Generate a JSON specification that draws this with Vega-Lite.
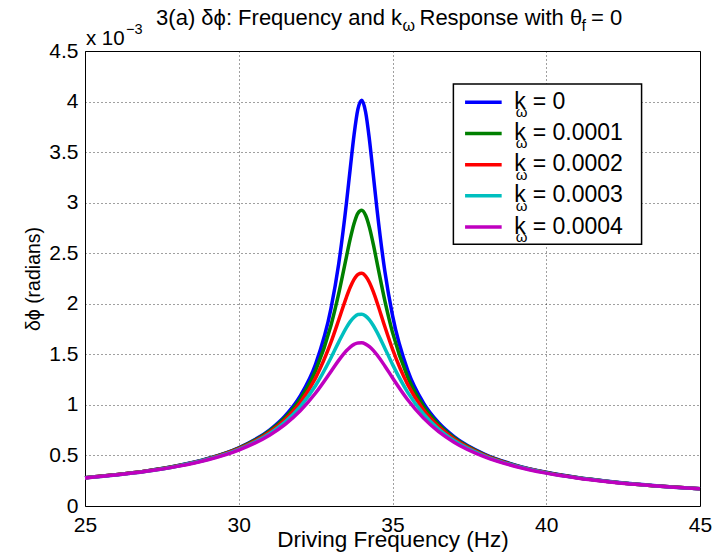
{
  "$schema": "https://vega.github.io/schema/vega-lite/v6.json",
  "width": 615,
  "height": 455,
  "autosize": {"type": "none"},
  "padding": {"left": 85, "top": 51, "right": 15, "bottom": 52},
  "background": "white",
  "config": {
    "view": {"stroke": "black", "strokeWidth": 1},
    "axis": {
      "labelFont": "Liberation Sans", "titleFont": "Liberation Sans",
      "labelColor": "black", "titleColor": "black", "titleFontWeight": "normal",
      "grid": true, "gridColor": "black", "gridDash": [1, 3], "gridOpacity": 0.75,
      "domain": false, "ticks": false, "tickSize": 0,
      "labelOverlap": false, "labelFlush": false
    },
    "text": {"font": "Liberation Sans", "color": "black"}
  },
  "datasets": {
    "curves": [
      {"f":25,"k":"0","v":0.0002797},{"f":26,"k":"0","v":0.0003093},{"f":27,"k":"0","v":0.0003474},{"f":28,"k":"0","v":0.0003984},{"f":29,"k":"0","v":0.0004697},{"f":30,"k":"0","v":0.0005762},{"f":31,"k":"0","v":0.0007514},{"f":31.5,"k":"0","v":0.0008888},{"f":32,"k":"0","v":0.0010891},{"f":32.5,"k":"0","v":0.0014048},{"f":33,"k":"0","v":0.0019553},{"f":33.25,"k":"0","v":0.0023942},{"f":33.5,"k":"0","v":0.0029907},{"f":33.625,"k":"0","v":0.003336},{"f":33.75,"k":"0","v":0.0036716},{"f":33.875,"k":"0","v":0.003925},{"f":34,"k":"0","v":0.0040124},{"f":34.125,"k":"0","v":0.003897},{"f":34.25,"k":"0","v":0.0036225},{"f":34.375,"k":"0","v":0.003275},{"f":34.5,"k":"0","v":0.0029237},{"f":34.75,"k":"0","v":0.0023242},{"f":35,"k":"0","v":0.0018861},{"f":35.5,"k":"0","v":0.0013372},{"f":36,"k":"0","v":0.0010227},{"f":36.5,"k":"0","v":0.000823},{"f":37,"k":"0","v":0.0006859},{"f":38,"k":"0","v":0.0005111},{"f":39,"k":"0","v":0.0004047},{"f":40,"k":"0","v":0.0003333},{"f":41,"k":"0","v":0.0002822},{"f":42,"k":"0","v":0.0002439},{"f":43,"k":"0","v":0.0002141},{"f":44,"k":"0","v":0.0001903},{"f":45,"k":"0","v":0.0001708},
      {"f":25,"k":"0.0001","v":0.0002794},{"f":26,"k":"0.0001","v":0.0003088},{"f":27,"k":"0.0001","v":0.0003467},{"f":28,"k":"0.0001","v":0.0003972},{"f":29,"k":"0.0001","v":0.0004677},{"f":30,"k":"0.0001","v":0.0005721},{"f":31,"k":"0.0001","v":0.0007419},{"f":31.5,"k":"0.0001","v":0.0008727},{"f":32,"k":"0.0001","v":0.0010591},{"f":32.5,"k":"0.0001","v":0.0013402},{"f":33,"k":"0.0001","v":0.0017873},{"f":33.25,"k":"0.0001","v":0.0020997},{"f":33.5,"k":"0.0001","v":0.0024623},{"f":33.625,"k":"0.0001","v":0.002641},{"f":33.75,"k":"0.0001","v":0.0027936},{"f":33.875,"k":"0.0001","v":0.002896},{"f":34,"k":"0.0001","v":0.0029254},{"f":34.125,"k":"0.0001","v":0.002875},{"f":34.25,"k":"0.0001","v":0.0027552},{"f":34.375,"k":"0.0001","v":0.002589},{"f":34.5,"k":"0.0001","v":0.0024019},{"f":34.75,"k":"0.0001","v":0.0020314},{"f":35,"k":"0.0001","v":0.0017171},{"f":35.5,"k":"0.0001","v":0.0012712},{"f":36,"k":"0.0001","v":0.0009914},{"f":36.5,"k":"0.0001","v":0.0008059},{"f":37,"k":"0.0001","v":0.0006757},{"f":38,"k":"0.0001","v":0.0005066},{"f":39,"k":"0.0001","v":0.0004023},{"f":40,"k":"0.0001","v":0.0003319},{"f":41,"k":"0.0001","v":0.0002813},{"f":42,"k":"0.0001","v":0.0002433},{"f":43,"k":"0.0001","v":0.0002137},{"f":44,"k":"0.0001","v":0.00019},{"f":45,"k":"0.0001","v":0.0001706},
      {"f":25,"k":"0.0002","v":0.0002789},{"f":26,"k":"0.0002","v":0.0003082},{"f":27,"k":"0.0002","v":0.0003458},{"f":28,"k":"0.0002","v":0.0003957},{"f":29,"k":"0.0002","v":0.000465},{"f":30,"k":"0.0002","v":0.000567},{"f":31,"k":"0.0002","v":0.00073},{"f":31.5,"k":"0.0002","v":0.0008529},{"f":32,"k":"0.0002","v":0.0010232},{"f":32.5,"k":"0.0002","v":0.0012675},{"f":33,"k":"0.0002","v":0.0016205},{"f":33.25,"k":"0.0002","v":0.0018394},{"f":33.5,"k":"0.0002","v":0.0020641},{"f":33.625,"k":"0.0002","v":0.002163},{"f":33.75,"k":"0.0002","v":0.0022418},{"f":33.875,"k":"0.0002","v":0.0022905},{"f":34,"k":"0.0002","v":0.0023019},{"f":34.125,"k":"0.0002","v":0.0022737},{"f":34.25,"k":"0.0002","v":0.0022102},{"f":34.375,"k":"0.0002","v":0.002119},{"f":34.5,"k":"0.0002","v":0.0020106},{"f":34.75,"k":"0.0002","v":0.0017751},{"f":35,"k":"0.0002","v":0.0015517},{"f":35.5,"k":"0.0002","v":0.0011976},{"f":36,"k":"0.0002","v":0.0009543},{"f":36.5,"k":"0.0002","v":0.0007851},{"f":37,"k":"0.0002","v":0.000663},{"f":38,"k":"0.0002","v":0.0005008},{"f":39,"k":"0.0002","v":0.0003992},{"f":40,"k":"0.0002","v":0.0003301},{"f":41,"k":"0.0002","v":0.0002802},{"f":42,"k":"0.0002","v":0.0002425},{"f":43,"k":"0.0002","v":0.0002131},{"f":44,"k":"0.0002","v":0.0001896},{"f":45,"k":"0.0002","v":0.0001703},
      {"f":25,"k":"0.0003","v":0.0002784},{"f":26,"k":"0.0003","v":0.0003074},{"f":27,"k":"0.0003","v":0.0003446},{"f":28,"k":"0.0003","v":0.0003938},{"f":29,"k":"0.0003","v":0.0004618},{"f":30,"k":"0.0003","v":0.0005608},{"f":31,"k":"0.0003","v":0.000716},{"f":31.5,"k":"0.0003","v":0.0008301},{"f":32,"k":"0.0003","v":0.0009834},{"f":32.5,"k":"0.0003","v":0.001192},{"f":33,"k":"0.0003","v":0.0014669},{"f":33.25,"k":"0.0003","v":0.0016207},{"f":33.5,"k":"0.0003","v":0.0017646},{"f":33.625,"k":"0.0003","v":0.0018234},{"f":33.75,"k":"0.0003","v":0.0018676},{"f":33.875,"k":"0.0003","v":0.0018933},{"f":34,"k":"0.0003","v":0.0018974},{"f":34.125,"k":"0.0003","v":0.0018794},{"f":34.25,"k":"0.0003","v":0.001841},{"f":34.375,"k":"0.0003","v":0.0017855},{"f":34.5,"k":"0.0003","v":0.0017173},{"f":34.75,"k":"0.0003","v":0.001561},{"f":35,"k":"0.0003","v":0.0014007},{"f":35.5,"k":"0.0003","v":0.001122},{"f":36,"k":"0.0003","v":0.0009137},{"f":36.5,"k":"0.0003","v":0.0007614},{"f":37,"k":"0.0003","v":0.0006481},{"f":38,"k":"0.0003","v":0.000494},{"f":39,"k":"0.0003","v":0.0003956},{"f":40,"k":"0.0003","v":0.0003279},{"f":41,"k":"0.0003","v":0.0002788},{"f":42,"k":"0.0003","v":0.0002415},{"f":43,"k":"0.0003","v":0.0002124},{"f":44,"k":"0.0003","v":0.000189},{"f":45,"k":"0.0003","v":0.0001699},
      {"f":25,"k":"0.0004","v":0.0002778},{"f":26,"k":"0.0004","v":0.0003065},{"f":27,"k":"0.0004","v":0.0003432},{"f":28,"k":"0.0004","v":0.0003917},{"f":29,"k":"0.0004","v":0.000458},{"f":30,"k":"0.0004","v":0.0005536},{"f":31,"k":"0.0004","v":0.0007003},{"f":31.5,"k":"0.0004","v":0.0008053},{"f":32,"k":"0.0004","v":0.0009415},{"f":32.5,"k":"0.0004","v":0.0011175},{"f":33,"k":"0.0004","v":0.0013307},{"f":33.25,"k":"0.0004","v":0.0014401},{"f":33.5,"k":"0.0004","v":0.0015352},{"f":33.625,"k":"0.0004","v":0.0015721},{"f":33.75,"k":"0.0004","v":0.0015986},{"f":33.875,"k":"0.0004","v":0.001613},{"f":34,"k":"0.0004","v":0.0016139},{"f":34.125,"k":"0.0004","v":0.0016012},{"f":34.25,"k":"0.0004","v":0.0015757},{"f":34.375,"k":"0.0004","v":0.001539},{"f":34.5,"k":"0.0004","v":0.0014934},{"f":34.75,"k":"0.0004","v":0.0013851},{"f":35,"k":"0.0004","v":0.0012678},{"f":35.5,"k":"0.0004","v":0.0010482},{"f":36,"k":"0.0004","v":0.0008714},{"f":36.5,"k":"0.0004","v":0.0007357},{"f":37,"k":"0.0004","v":0.0006316},{"f":38,"k":"0.0004","v":0.0004862},{"f":39,"k":"0.0004","v":0.0003913},{"f":40,"k":"0.0004","v":0.0003254},{"f":41,"k":"0.0004","v":0.0002771},{"f":42,"k":"0.0004","v":0.0002404},{"f":43,"k":"0.0004","v":0.0002116},{"f":44,"k":"0.0004","v":0.0001885},{"f":45,"k":"0.0004","v":0.0001695}
    ]
  },
  "layer": [
    {
      "data": {"name": "curves"},
      "mark": {"type": "line", "strokeWidth": 3.5, "interpolate": "monotone"},
      "encoding": {
        "x": {"field": "f", "type": "quantitative",
          "scale": {"domain": [25, 45], "nice": false, "zero": false},
          "axis": {"values": [25, 30, 35, 40, 45], "labelFontSize": 21, "labelPadding": 8,
            "title": "Driving Frequency (Hz)", "titleFontSize": 22.5, "titlePadding": -7}},
        "y": {"field": "v", "type": "quantitative",
          "scale": {"domain": [0, 0.0045], "nice": false},
          "axis": {"values": [0, 0.0005, 0.001, 0.0015, 0.002, 0.0025, 0.003, 0.0035, 0.004, 0.0045],
            "labelExpr": "format(datum.value * 1000, '.1~f')", "labelFontSize": 21, "labelPadding": 7,
            "title": "δϕ (radians)", "titleFontSize": 19.5, "titlePadding": 5}},
        "color": {"field": "k", "type": "nominal",
          "scale": {"domain": ["0", "0.0001", "0.0002", "0.0003", "0.0004"],
            "range": ["#0000ff", "#008000", "#ff0000", "#00bfbf", "#bf00bf"]},
          "legend": null}
      }
    },
    {
      "data": {"values": [{}]},
      "layer": [
        {"mark": {"type": "rect", "fill": "white", "stroke": "black", "strokeWidth": 1.5},
         "encoding": {"x": {"datum": 36.98}, "x2": {"datum": 43.1}, "y": {"datum": 0.004174}, "y2": {"datum": 0.002588}}},
        {"mark": {"type": "rule", "stroke": "#0000ff", "strokeWidth": 3.5}, "encoding": {"x": {"datum": 37.36}, "x2": {"datum": 38.55}, "y": {"datum": 0.003993}}},
        {"mark": {"type": "rule", "stroke": "#008000", "strokeWidth": 3.5}, "encoding": {"x": {"datum": 37.36}, "x2": {"datum": 38.55}, "y": {"datum": 0.0036845}}},
        {"mark": {"type": "rule", "stroke": "#ff0000", "strokeWidth": 3.5}, "encoding": {"x": {"datum": 37.36}, "x2": {"datum": 38.55}, "y": {"datum": 0.003376}}},
        {"mark": {"type": "rule", "stroke": "#00bfbf", "strokeWidth": 3.5}, "encoding": {"x": {"datum": 37.36}, "x2": {"datum": 38.55}, "y": {"datum": 0.0030675}}},
        {"mark": {"type": "rule", "stroke": "#bf00bf", "strokeWidth": 3.5}, "encoding": {"x": {"datum": 37.36}, "x2": {"datum": 38.55}, "y": {"datum": 0.002759}}},
        {"mark": {"type": "text", "text": "k", "align": "left", "fontSize": 23, "dy": 6.5, "baseline": "alphabetic"}, "encoding": {"x": {"datum": 38.96}, "y": {"datum": 0.003993}}},
        {"mark": {"type": "text", "text": "k", "align": "left", "fontSize": 23, "dy": 6.5, "baseline": "alphabetic"}, "encoding": {"x": {"datum": 38.96}, "y": {"datum": 0.0036845}}},
        {"mark": {"type": "text", "text": "k", "align": "left", "fontSize": 23, "dy": 6.5, "baseline": "alphabetic"}, "encoding": {"x": {"datum": 38.96}, "y": {"datum": 0.003376}}},
        {"mark": {"type": "text", "text": "k", "align": "left", "fontSize": 23, "dy": 6.5, "baseline": "alphabetic"}, "encoding": {"x": {"datum": 38.96}, "y": {"datum": 0.0030675}}},
        {"mark": {"type": "text", "text": "k", "align": "left", "fontSize": 23, "dy": 6.5, "baseline": "alphabetic"}, "encoding": {"x": {"datum": 38.96}, "y": {"datum": 0.002759}}},
        {"mark": {"type": "text", "text": "ω", "align": "left", "fontSize": 15, "dx": 1.5, "dy": 15, "baseline": "alphabetic"}, "encoding": {"x": {"datum": 38.96}, "y": {"datum": 0.003993}}},
        {"mark": {"type": "text", "text": "ω", "align": "left", "fontSize": 15, "dx": 1.5, "dy": 15, "baseline": "alphabetic"}, "encoding": {"x": {"datum": 38.96}, "y": {"datum": 0.0036845}}},
        {"mark": {"type": "text", "text": "ω", "align": "left", "fontSize": 15, "dx": 1.5, "dy": 15, "baseline": "alphabetic"}, "encoding": {"x": {"datum": 38.96}, "y": {"datum": 0.003376}}},
        {"mark": {"type": "text", "text": "ω", "align": "left", "fontSize": 15, "dx": 1.5, "dy": 15, "baseline": "alphabetic"}, "encoding": {"x": {"datum": 38.96}, "y": {"datum": 0.0030675}}},
        {"mark": {"type": "text", "text": "ω", "align": "left", "fontSize": 15, "dx": 1.5, "dy": 15, "baseline": "alphabetic"}, "encoding": {"x": {"datum": 38.96}, "y": {"datum": 0.002759}}},
        {"mark": {"type": "text", "text": "= 0", "align": "left", "fontSize": 23, "dy": 6.5, "baseline": "alphabetic"}, "encoding": {"x": {"datum": 39.56}, "y": {"datum": 0.003993}}},
        {"mark": {"type": "text", "text": "= 0.0001", "align": "left", "fontSize": 23, "dy": 6.5, "baseline": "alphabetic"}, "encoding": {"x": {"datum": 39.56}, "y": {"datum": 0.0036845}}},
        {"mark": {"type": "text", "text": "= 0.0002", "align": "left", "fontSize": 23, "dy": 6.5, "baseline": "alphabetic"}, "encoding": {"x": {"datum": 39.56}, "y": {"datum": 0.003376}}},
        {"mark": {"type": "text", "text": "= 0.0003", "align": "left", "fontSize": 23, "dy": 6.5, "baseline": "alphabetic"}, "encoding": {"x": {"datum": 39.56}, "y": {"datum": 0.0030675}}},
        {"mark": {"type": "text", "text": "= 0.0004", "align": "left", "fontSize": 23, "dy": 6.5, "baseline": "alphabetic"}, "encoding": {"x": {"datum": 39.56}, "y": {"datum": 0.002759}}},
        {"mark": {"type": "text", "text": "3(a) δϕ: Frequency and k", "align": "right", "fontSize": 22, "dx": 9.5, "baseline": "alphabetic"}, "encoding": {"x": {"datum": 35}, "y": {"datum": 0.004757}}},
        {"mark": {"type": "text", "text": "ω", "align": "left", "fontSize": 16, "dx": 10, "dy": 6, "baseline": "alphabetic"}, "encoding": {"x": {"datum": 35}, "y": {"datum": 0.004757}}},
        {"mark": {"type": "text", "text": "Response with θ", "align": "left", "fontSize": 22, "dx": 27, "baseline": "alphabetic"}, "encoding": {"x": {"datum": 35}, "y": {"datum": 0.004757}}},
        {"mark": {"type": "text", "text": "f", "align": "left", "fontSize": 16, "dx": 189, "dy": 6, "baseline": "alphabetic"}, "encoding": {"x": {"datum": 35}, "y": {"datum": 0.004757}}},
        {"mark": {"type": "text", "text": "= 0", "align": "left", "fontSize": 22, "dx": 198.5, "baseline": "alphabetic"}, "encoding": {"x": {"datum": 35}, "y": {"datum": 0.004757}}},
        {"mark": {"type": "text", "text": "x 10", "align": "left", "fontSize": 20.5, "baseline": "alphabetic"}, "encoding": {"x": {"datum": 25.03}, "y": {"datum": 0.004559}}},
        {"mark": {"type": "text", "text": "−3", "align": "left", "fontSize": 14.5, "dx": 40, "dy": -11, "baseline": "alphabetic"}, "encoding": {"x": {"datum": 25.03}, "y": {"datum": 0.004559}}}
      ]
    }
  ]
}
